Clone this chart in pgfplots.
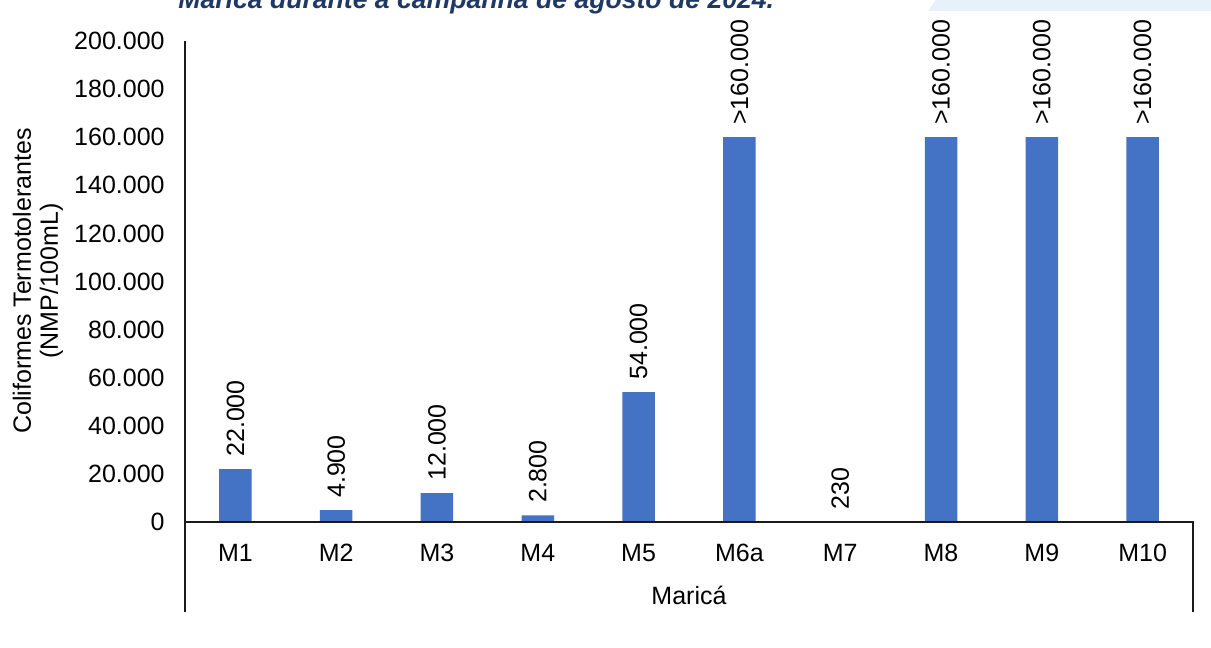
\documentclass[border=0pt]{standalone}
\usepackage{pgfplots}
\pgfplotsset{compat=1.18}
\usepackage{fontspec}
\setmainfont{Liberation Sans}
\definecolor{barblue}{HTML}{4472C4}
\definecolor{titleblue}{HTML}{1F3864}
\definecolor{shapeblue}{HTML}{E8F0F9}
\definecolor{axisgray}{HTML}{1A1A1A}
\newcommand{\lbl}{\fontsize{12.5}{14}\selectfont}
\begin{document}
\begin{tikzpicture}[x=0.5pt,y=0.5pt]
\path[use as bounding box] (0,0) rectangle (1211,648);
\clip (0,0) rectangle (1211,648);
\fill[shapeblue] (928,637) -- (936,648) -- (1211,648) -- (1211,637) -- cycle;
\node[anchor=base west, inner sep=0pt, font=\fontsize{13.3}{16}\selectfont\bfseries\itshape, text=titleblue] at (178,639) {Maricá durante a campanha de agosto de 2024.};
\begin{axis}[
  at={(92.5pt,63pt)}, anchor=south west,
  scale only axis, width=504pt, height=240.5pt,
  xmin=-0.5, xmax=9.5, ymin=0, ymax=200000,
  axis line style={draw=none},
  major tick length=0pt,
  xtick pos=bottom, ytick pos=left,
  xtick={0,...,9},
  xticklabels={M1,M2,M3,M4,M5,M6a,M7,M8,M9,M10},
  ytick={0,20000,...,200000},
  scaled y ticks=false,
  /pgf/number format/.cd, fixed, 1000 sep={.}, assume math mode=true,
  /pgfplots/.cd,
  yticklabel style={font=\lbl, anchor=east, inner sep=0pt, xshift=-10pt},
  xticklabel style={font=\lbl, anchor=base, inner sep=0pt, yshift=-20pt},
  clip=false,
]
\addplot[ybar, bar width=16.25pt, fill=barblue, draw=none,
  nodes near coords, point meta=explicit symbolic,
  nodes near coords style={rotate=90, anchor=west, inner xsep=6pt, inner ysep=0pt, font=\lbl, text=black}]
  coordinates {
  (0,22000) [22.000]
  (1,4900) [4.900]
  (2,12000) [12.000]
  (3,2800) [2.800]
  (4,54000) [54.000]
  (5,160000) [>160.000]
  (6,230) [230]
  (7,160000) [>160.000]
  (8,160000) [>160.000]
  (9,160000) [>160.000]
  };
\end{axis}
\draw[axisgray, line width=1pt] (185,607) -- (185,36);
\draw[axisgray, line width=1pt] (185,126) -- (1193,126) -- (1193,36);
\node[rotate=90, align=center, font=\fontsize{12.5}{13.5}\selectfont] at (38,367) {Coliformes Termotolerantes\\(NMP/100mL)};
\node[anchor=base, inner sep=0pt, font=\lbl] at (689,43) {Maricá};
\end{tikzpicture}
\end{document}
